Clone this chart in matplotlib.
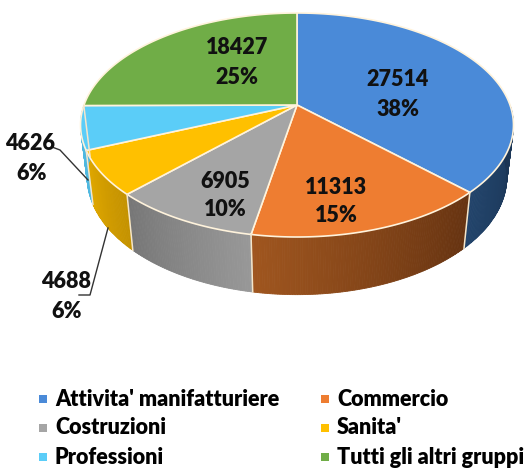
import numpy as np
import matplotlib.pyplot as plt
from matplotlib.patches import Polygon, Rectangle
from matplotlib.colors import to_rgb

# dati
categorie = ["Attivita' manifatturiere", "Commercio", "Costruzioni",
             "Sanita'", "Professioni", "Tutti gli altri gruppi"]
valori = [27514, 11313, 6905, 4688, 4626, 18427]
percentuali = ["38%", "15%", "10%", "6%", "6%", "25%"]
colori = ["#4A8AD8", "#EE7D31", "#A5A5A5", "#FFC000", "#5BCDF8", "#70AD47"]
# pareti laterali: colore a sinistra, colore a destra
lati = [("#22446B", "#1A3352"), ("#A0561F", "#663311"), ("#767676", "#989898"),
        ("#E2A900", "#C49200"), ("#4FB8E0", "#4FB8E0"), ("#5A8E38", "#4A7A2E")]

# posizioni etichette (px)
pos_etich = [(398, 80), (336, 187), (225, 181), (66, 282), (30, 144), (237, 48)]
guide = {3: [(79, 295), (90, 295), (108, 228)],
         4: [(52, 147), (60, 150), (88, 180)]}

W, H = 527, 468
fig = plt.figure(figsize=(W / 100, H / 100), dpi=100)
ax = fig.add_axes([0, 0, 1, 1])
ax.set_xlim(0, W)
ax.set_ylim(H, 0)
ax.axis('off')

# proiezione prospettica semplice
cx, cy = 297, 105
alpha = np.radians(30.6)
D = 4.82
f = 213 * D
h = 0.29

def proj(theta, z=0.0, r=1.0):
    x = r * np.cos(theta)
    y = r * np.sin(theta)
    pu = y * np.sin(alpha) + z * np.cos(alpha)
    pv = -y * np.cos(alpha) + z * np.sin(alpha)
    dep = D - pv
    return cx + x * f / dep, cy - pu * f / dep

tot = float(sum(valori))
cum = np.concatenate([[0], np.cumsum(valori)]) / tot
ang = np.pi / 2 - 2 * np.pi * cum   # senso orario da ore 12

# pareti laterali (solo parte frontale)
for i in range(len(valori)):
    t_hi, t_lo = ang[i], ang[i + 1]
    lo, hi = max(t_lo, -np.pi), min(t_hi, 0.0)
    if hi <= lo:
        continue
    n = max(int((hi - lo) / 0.01), 2)
    tt = np.linspace(lo, hi, n + 1)
    cl, cr = np.array(to_rgb(lati[i][0])), np.array(to_rgb(lati[i][1]))
    for k in range(n):
        a0, a1 = tt[k], tt[k + 1]
        fr = (0.5 * (a0 + a1) - lo) / (hi - lo)
        c = cl * (1 - fr) + cr * fr
        seg = np.linspace(a0, a1, 3)
        top = [proj(a) for a in seg]
        bot = [proj(a, -h) for a in seg[::-1]]
        ax.add_patch(Polygon(top + bot, closed=True, fc=c, ec=c, lw=0.6))

# linee di separazione sulle pareti
for a in ang:
    a = (a + np.pi) % (2 * np.pi) - np.pi
    if -np.pi < a < 0:
        p0, p1 = proj(a), proj(a, -h)
        ax.plot([p0[0], p1[0]], [p0[1], p1[1]], color="#F4E6CC", lw=1.1)

# facce superiori
for i in range(len(valori)):
    tt = np.linspace(ang[i], ang[i + 1], 200)
    pts = [(cx, cy)] + [proj(a) for a in tt]
    ax.add_patch(Polygon(pts, closed=True, fc=colori[i], ec="#FFF3DC", lw=1.2))

font = ['Lato', 'DejaVu Sans']

# etichette dati
for i, (x, y) in enumerate(pos_etich):
    ax.text(x, y, str(valori[i]), ha='center', va='center', fontsize=15.5,
            fontweight='heavy', color="#111111", family=font)
    dx = 2 if i == 4 else (1 if i == 3 else 0)
    ax.text(x + dx, y + 29, percentuali[i], ha='center', va='center', fontsize=15.5,
            fontweight='heavy', color="#111111", family=font)

for i, pts in guide.items():
    xs, ys = zip(*pts)
    ax.plot(xs, ys, color="#333333", lw=1)

# legenda manuale su due colonne
col_x = [39, 321]
row_y = [399, 428, 457]
for i, nome in enumerate(categorie):
    col, row = i % 2, i // 2
    ax.add_patch(Rectangle((col_x[col], row_y[row] - 4), 8, 8, fc=colori[i], ec='none'))
    ax.text(col_x[col] + 16, row_y[row], nome, ha='left', va='center',
            fontsize=15.5, fontweight='heavy', color="#000000", family=font)

fig.savefig("out.png", dpi=100)
